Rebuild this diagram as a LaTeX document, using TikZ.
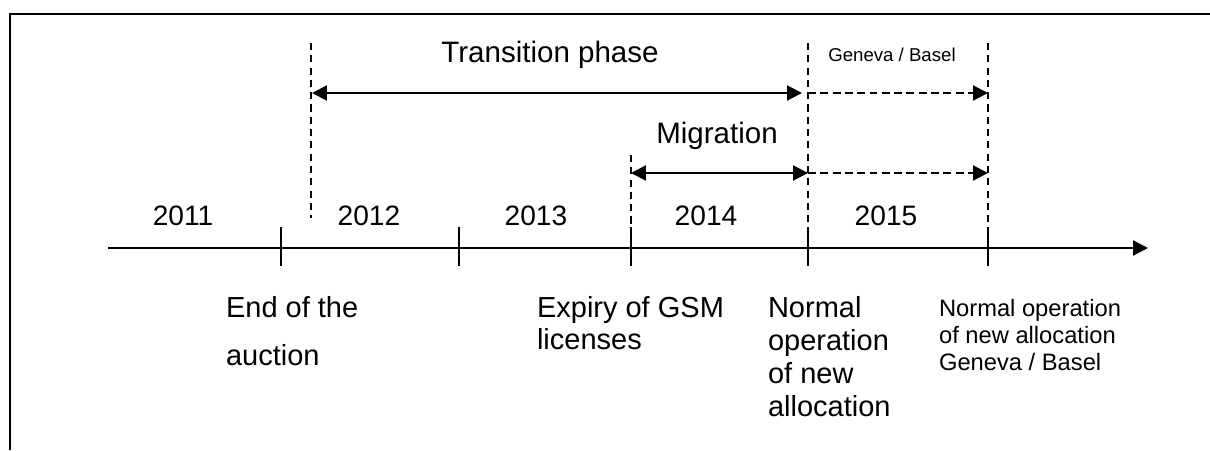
\documentclass[tikz,border=0pt]{standalone}
\usepackage{fontspec}
\setmainfont{Liberation Sans}
\usetikzlibrary{arrows.meta}

\begin{document}
\begin{tikzpicture}
  [x=0.02cm,y=-0.02cm,line width=1.2pt,
  yr/.style={anchor=base,inner sep=0pt,font=\fontsize{16}{19}\selectfont},
  ph/.style={yr,font=\fontsize{16.8}{19}\selectfont},
  ev/.style={anchor=north west,align=left,inner sep=0pt,
    font=\fontsize{16.5}{18.8}\selectfont},
  sev/.style={ev,font=\fontsize{13.5}{15.4}\selectfont},
  guide/.style={draw,dash pattern=on 4pt off 3pt},
  span/.style={{Triangle[length=8.5pt,width=8.5pt]}-{Triangle[length=8.5pt,width=8.5pt]},draw},
  post/.style={-{Triangle[length=8.5pt,width=8.5pt]},draw},
  dpost/.style={post,dash pattern=on 4.5pt off 2.5pt}]

  \useasboundingbox (0,0) rectangle (1210,450);
  \draw (10,450) -- (10,14) -- (1210,14);

  % time axis
  \coordinate (start) at (108,248);
  \coordinate (end) at (1148,248);
  \draw[post] (start) -- (end);
  \foreach \n/\x in {a/281,b/459,c/631,d/808,e/988}{
    \coordinate (m\n) at (\x,248);
    \draw (m\n) ++(0,-21) -- ++(0,39);
  }

  % years
  \node[yr] (y11) at (183,225) {2011};
  \node[yr] (y12) at (369,225) {2012};
  \node[yr] (y13) at (536,225) {2013};
  \node[yr] (y14) at (706,225) {2014};
  \node[yr] (y15) at (886,225) {2015};

  % guides
  \coordinate (g1) at (311,43);
  \coordinate (g1b) at (311,218);
  \coordinate (g2) at (631,155);
  \coordinate (g3) at (808,43);
  \coordinate (g4) at (988,43);
  \draw[guide] (g1) -- (g1b);
  \draw[guide] (g2) -- (mc);
  \draw[guide] (g3) -- (md);
  \draw[guide] (g4) -- (me);

  % phases
  \node[ph] (trans) at (550,62) {Transition phase};
  \coordinate (tpl) at (312,93);
  \coordinate (tpr) at (802,93);
  \draw[span] (tpl) -- (tpr);

  \node[ph] (mig) at (717,143) {Migration};
  \coordinate (mgl) at (631,173);
  \coordinate (mgr) at (808,173);
  \draw[span] (mgl) -- (mgr);

  \node[yr,font=\fontsize{10.6}{12}\selectfont] (gb) at (892,61) {Geneva / Basel};
  \coordinate (gbt) at (988,93);
  \coordinate (gbm) at (988,173);
  \draw[dpost] (g3 |- tpr) -- (gbt);
  \draw[dpost] (mgr) -- (gbm);

  % events
  \node[ev,font=\fontsize{16.5}{27.3}\selectfont] (auc) at (225,295) {End of the\\auction};
  \node[ev,font=\fontsize{16.5}{18.2}\selectfont] (gsm) at (536,295) {Expiry of GSM\\licenses};
  \node[ev] (norm) at (767,295) {Normal\\operation\\of new\\allocation};
  \node[sev] (ngb) at (938,298) {Normal operation\\of new allocation\\Geneva / Basel};
\end{tikzpicture}
\end{document}
